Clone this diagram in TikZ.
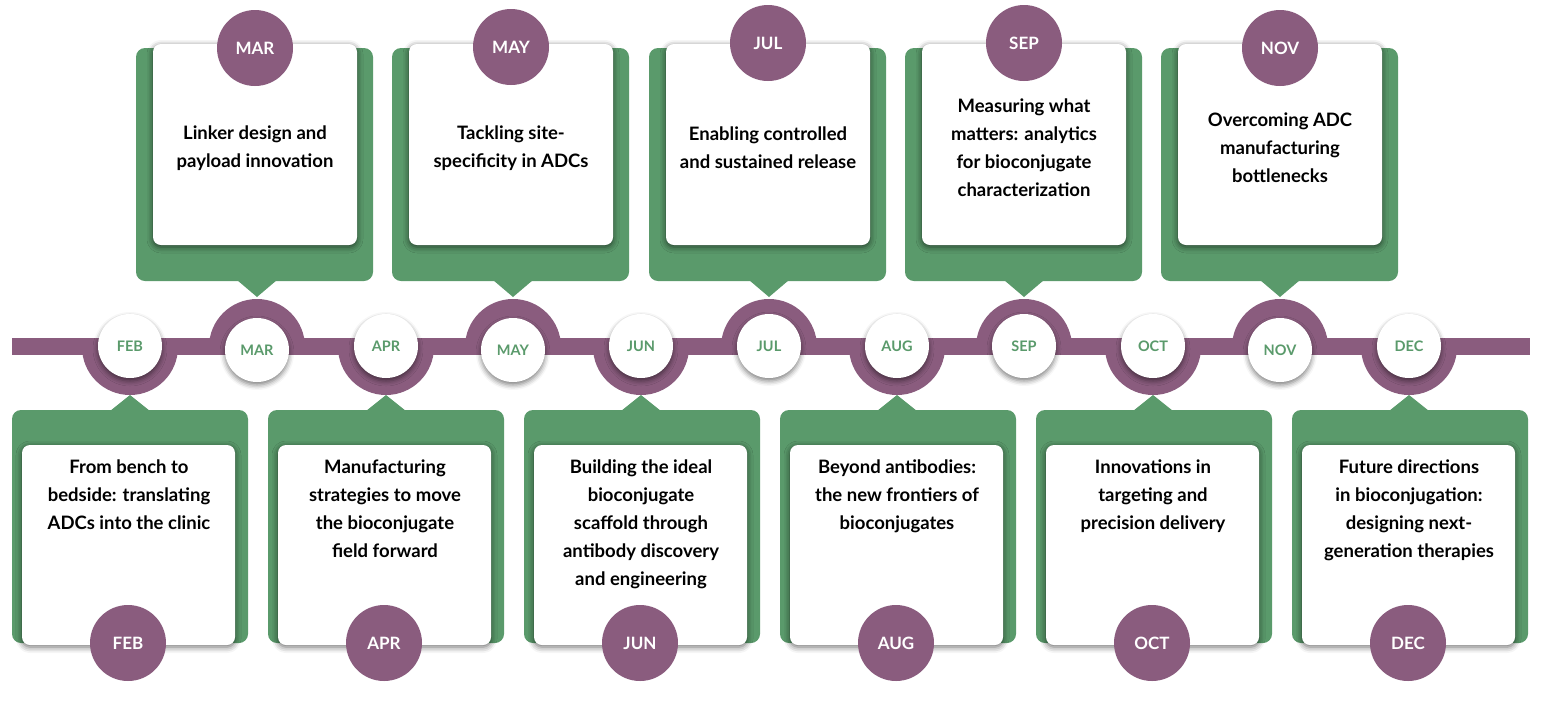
\documentclass[tikz,border=0pt]{standalone}
\usepackage{fontspec}
\setmainfont{Lato}[UprightFont=* Bold]
\usetikzlibrary{shadows.blur}
\definecolor{plum}{HTML}{8A5C7E}
\definecolor{leaf}{HTML}{5A9A6B}
\tikzset{
  green box/.style={fill=leaf,rounded corners=9pt},
  card/.style={fill=white,rounded corners=8pt,blur shadow={shadow xshift=0pt,shadow yshift=-2pt,shadow blur radius=6pt,shadow opacity=60}},
  month/.style={circle,fill=plum,minimum size=76pt,inner sep=0pt,text=white,font=\fontsize{17}{17}\selectfont},
  dot/.style={circle,fill=white,minimum size=64pt,inner sep=0pt,text=leaf,font=\fontsize{14.5}{14.5}\selectfont,blur shadow={shadow xshift=0pt,shadow yshift=-3pt,shadow blur radius=5pt,shadow opacity=50}},
  lbl/.style={align=center,font=\fontsize{18.5}{28}\selectfont,inner sep=0pt}
}
\begin{document}
\begin{tikzpicture}[x=1pt,y=-1pt]
\useasboundingbox (0,0) rectangle (1542,721);
\foreach \c/\t in {130/b,257/t,386/b,513/t,641/b,769/t,897/b,1024/t,1153/b,1280/t,1409/b}{
  \begin{scope}
  \if b\t \clip (\c-60,347) rectangle (\c+60,410); \else \clip (\c-60,290) rectangle (\c+60,347); \fi
  \fill[plum] (\c,347) circle (48);
  \end{scope}
}
\fill[plum] (12,338) rectangle (1530,355);
\foreach \c/\x/\m/\cy/\txt in {257/136/MAR/48/{Linker design and\\payload innovation},513/392/MAY/47/{Tackling site-\\specificity in ADCs},769/649/JUL/43/{Enabling controlled\\and sustained release},1024/905/SEP/43/{Measuring what\\matters: analytics\\for bioconjugate\\characterization},1280/1161/NOV/48/{Overcoming ADC\\manufacturing\\bottlenecks}}{
  \fill[green box] (\x,48) rectangle (\x+237,281);
  \fill[leaf] (\c-20,280) -- (\c+20,280) -- (\c,297) -- cycle;
  \fill[card] (\x+17,44) rectangle (\x+221,245);
  \node[lbl] (t\m) at (\x+119,148) {\txt};
  \node[month] (m\m) at (\x+119,\cy) {\m};
}
\foreach \c/\x/\m/\txt in {130/12/FEB/{From bench to\\bedside: translating\\ADCs into the clinic},386/268/APR/{Manufacturing\\strategies to move\\the bioconjugate\\field forward},641/524/JUN/{Building the ideal\\bioconjugate\\scaffold through\\antibody discovery\\and engineering},897/780/AUG/{Beyond antibodies:\\the new frontiers of\\bioconjugates},1153/1036/OCT/{Innovations in\\targeting and\\precision delivery},1409/1292/DEC/{Future directions\\in bioconjugation:\\designing next-\\generation therapies}}{
  \fill[green box] (\x,410) rectangle (\x+236,643);
  \fill[leaf] (\c-20,411) -- (\c+20,411) -- (\c,395) -- cycle;
  \fill[card] (\x+10,445) rectangle (\x+223,645);
  \node[lbl,anchor=north] (b\m) at (\x+117,460) {\txt};
  \node[month] (n\m) at (\x+116,643) {\m};
}
\foreach \c/\m/\y in {130/FEB/346,257/MAR/350,386/APR/346,513/MAY/350,641/JUN/346,769/JUL/346,897/AUG/346,1024/SEP/346,1153/OCT/346,1280/NOV/350,1409/DEC/346}{
  \node[dot] (d\m) at (\c,\y) {\m};
}
\end{tikzpicture}
\end{document}
